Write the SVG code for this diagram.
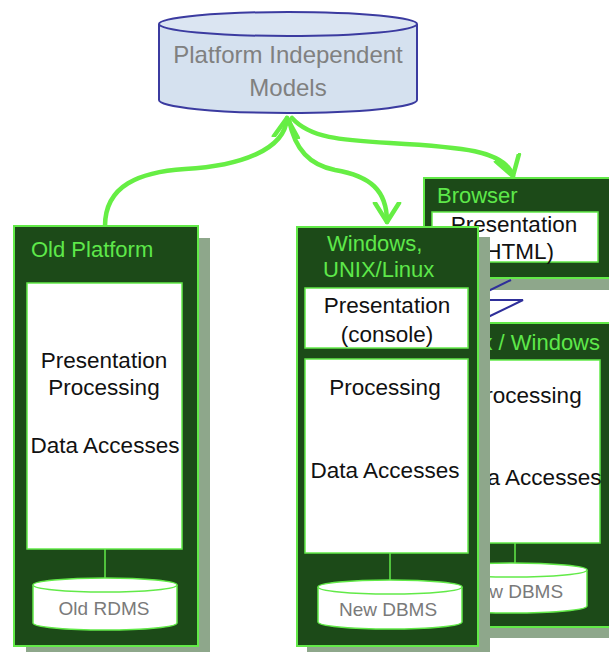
<svg xmlns="http://www.w3.org/2000/svg" width="609" height="652" viewBox="0 0 609 652">
  <defs>
    <style>
      .panel { fill: #1c4a18; stroke: #62ea48; stroke-width: 2; }
      .shadow { fill: #8ea78b; }
      .inner { fill: #ffffff; stroke: #62ea48; stroke-width: 1.5; }
      .title { font-family: "Liberation Sans", Arial, sans-serif; font-size: 22px; fill: #5ee84a; }
      .body { font-family: "Liberation Sans", Arial, sans-serif; font-size: 22.5px; fill: #111111; text-anchor: middle; }
      .db { fill: #ffffff; stroke: #62ea48; stroke-width: 1.5; }
      .dbtext { font-family: "Liberation Sans", Arial, sans-serif; font-size: 19px; fill: #7a7a7a; text-anchor: middle; }
      .link { stroke: #62ea48; stroke-width: 1.5; }
      .flow { fill: none; stroke: #66ee44; stroke-width: 4.5; stroke-linecap: round; }
      .zig { fill: none; stroke: #2f2f9a; stroke-width: 2; }
    </style>
    <marker id="vhead" markerUnits="userSpaceOnUse" markerWidth="40" markerHeight="40" viewBox="-20 -20 40 40" refX="0" refY="0" orient="auto">
      <path d="M-19,-12 L0,0 L-19,12" fill="none" stroke="#66ee44" stroke-width="4.5" stroke-linecap="round" stroke-linejoin="round"/>
    </marker>
  </defs>

  <rect width="609" height="652" fill="#ffffff"/>

  <!-- shared model repository -->
  <g id="pim">
    <path d="M159,24 V100 A129,13 0 0 0 417,100 V24" fill="#d5e1ef" stroke="#3b3ba0" stroke-width="2"/>
    <ellipse cx="288" cy="24" rx="129" ry="12" fill="#dbe5f2" stroke="#3b3ba0" stroke-width="2"/>
    <text x="288" y="63" font-family="'Liberation Sans', Arial, sans-serif" font-size="24" fill="#808080" text-anchor="middle">Platform Independent</text>
    <text x="288" y="96" font-family="'Liberation Sans', Arial, sans-serif" font-size="24" fill="#808080" text-anchor="middle">Models</text>
  </g>

  <!-- browser tier -->
  <g id="browser">
    <rect class="shadow" x="436" y="278" width="180" height="12"/>
    <rect class="panel" x="424" y="178" width="192" height="100"/>
    <text class="title" x="437" y="203">Browser</text>
    <rect class="inner" x="432" y="212" width="166" height="50"/>
    <text class="body" x="514" y="232">Presentation</text>
    <text class="body" x="516" y="259">(HTML)</text>
  </g>

  <!-- unix / windows server tier -->
  <g id="unix-windows">
    <rect class="shadow" x="433" y="627" width="183" height="11"/>
    <rect class="panel" x="421" y="323" width="195" height="304"/>
    <text class="title" x="600" y="350" text-anchor="end">Unix / Windows</text>
    <rect class="inner" x="430" y="360" width="170" height="183"/>
    <text class="body" x="526" y="403">Processing</text>
    <text class="body" x="527" y="485">Data Accesses</text>
    <line class="link" x1="515" y1="543" x2="515" y2="565"/>
    <path class="db" d="M437,570 V606 A75,7 0 0 0 587,606 V570"/>
    <ellipse class="db" cx="512" cy="570" rx="75" ry="7"/>
    <text class="dbtext" x="514" y="598">New DBMS</text>
  </g>

  <!-- connectors -->
  <g id="connectors">
    <path class="flow" d="M105,226 C105,185 140,172 185,169 C240,166 285,150 287,118" marker-end="url(#vhead)"/>
    <path class="flow" d="M289,120 C295,150 310,165 335,170 C370,176 387,190 387,222" marker-end="url(#vhead)"/>
    <path class="flow" d="M292,118 C310,138 340,140 390,143 C460,147 505,150 513,176" marker-end="url(#vhead)"/>
    <polyline class="zig" points="478,296 511,280"/>
    <polyline class="zig" points="478,300 523,300 488,317"/>
  </g>

  <!-- windows / unix console tier -->
  <g id="windows-unix">
    <rect class="shadow" x="478" y="237" width="12" height="415"/>
    <rect class="shadow" x="307" y="646" width="183" height="6"/>
    <rect class="panel" x="297" y="227" width="181" height="419"/>
    <text class="title" x="327" y="251">Windows,</text>
    <text class="title" x="323" y="277">UNIX/Linux</text>
    <rect class="inner" x="305" y="288" width="163" height="60"/>
    <text class="body" x="387" y="313">Presentation</text>
    <text class="body" x="387" y="342">(console)</text>
    <rect class="inner" x="305" y="359" width="163" height="194"/>
    <text class="body" x="385" y="395">Processing</text>
    <text class="body" x="385" y="478">Data Accesses</text>
    <line class="link" x1="390" y1="553" x2="390" y2="582"/>
    <path class="db" d="M318,587 V622 A72,7 0 0 0 462,622 V587"/>
    <ellipse class="db" cx="390" cy="587" rx="72" ry="7"/>
    <text class="dbtext" x="388" y="616">New DBMS</text>
  </g>

  <!-- legacy platform -->
  <g id="old-platform">
    <rect class="shadow" x="198" y="238" width="12" height="414"/>
    <rect class="shadow" x="26" y="646" width="184" height="6"/>
    <rect class="panel" x="14" y="226" width="184" height="420"/>
    <text class="title" x="31" y="257">Old Platform</text>
    <rect class="inner" x="27" y="283" width="155" height="266"/>
    <text class="body" x="104" y="368">Presentation</text>
    <text class="body" x="104" y="395">Processing</text>
    <text class="body" x="105" y="453">Data Accesses</text>
    <line class="link" x1="105" y1="549" x2="105" y2="580"/>
    <path class="db" d="M33,585 V623 A72,7 0 0 0 177,623 V585"/>
    <ellipse class="db" cx="105" cy="585" rx="72" ry="7"/>
    <text class="dbtext" x="104" y="615">Old RDMS</text>
  </g>
</svg>
